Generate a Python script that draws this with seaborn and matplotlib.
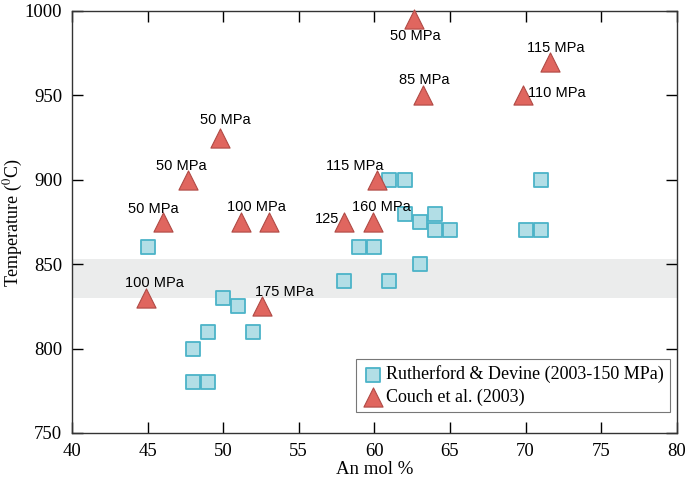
import matplotlib
matplotlib.use("Agg")
import matplotlib.pyplot as plt
import seaborn as sns
import pandas as pd

sns.set_style("ticks")
plt.rcParams["font.family"] = ["Liberation Serif", "DejaVu Serif"]
plt.rcParams["mathtext.fontset"] = "stix"
plt.rcParams["text.color"] = "black"
plt.rcParams["axes.labelcolor"] = "black"
plt.rcParams["xtick.color"] = "black"
plt.rcParams["ytick.color"] = "black"

# Rutherford & Devine (2003) - 150 MPa
rd_an = [45, 48, 48, 49, 49, 50, 51, 52, 58, 59, 60, 61, 61, 62, 62, 63, 63, 64, 64, 65, 70, 71, 71]
rd_temp = [860, 800, 780, 780, 810, 830, 825, 810, 840, 860, 860, 840, 900, 900, 880, 875, 850,
           880, 870, 870, 870, 870, 900]

# Couch et al. (2003)
couch_an = [49.8, 47.7, 46.0, 51.2, 53.0, 58.0, 59.9, 60.2, 62.6, 63.2, 69.8, 71.6, 44.9, 52.6]
couch_temp = [925, 900, 875, 875, 875, 875, 875, 900, 995, 950, 950, 970, 830, 825]
couch_labels = ["50 MPa", "50 MPa", "50 MPa", "100 MPa", "", "125", "160 MPa", "115 MPa",
                "50 MPa", "85 MPa", "110 MPa", "115 MPa", "100 MPa", "175 MPa"]
# label offsets (points) from each triangle
label_dx = [4, -5, -7, 11, 0, -12, 6, -16, 1, 1, 25, 4, 6, 16]
label_dy = [13, 10, 9, 11, 0, 2, 11, 10, -12, 11, 2, 10, 11, 10]

band_low, band_high = 830, 853

rd = pd.DataFrame({"an": rd_an, "temp": rd_temp})
couch = pd.DataFrame({"an": couch_an, "temp": couch_temp})

fig = plt.figure(figsize=(6.85, 4.82), dpi=100)
ax = fig.add_axes([0.105, 0.1017, 0.883, 0.8755])

ax.axhspan(band_low, band_high, color="#EBECEC", zorder=0, lw=0)

sns.scatterplot(data=rd, x="an", y="temp", marker="s", s=110, color="#B2DEE6",
                edgecolor="#4BB3C8", linewidth=1.3, label="Rutherford & Devine (2003-150 MPa)",
                ax=ax, zorder=3)
sns.scatterplot(data=couch, x="an", y="temp", marker="^", s=190, color="#E0665F",
                edgecolor="#B04A45", linewidth=0.8, label="Couch et al. (2003)",
                ax=ax, zorder=4, clip_on=False)

for x, y, t, dx, dy in zip(couch_an, couch_temp, couch_labels, label_dx, label_dy):
    if t:
        ax.annotate(t, (x, y), xytext=(dx, dy), textcoords="offset points",
                    ha="center", va="center", fontsize=10.5, family="Liberation Sans",
                    zorder=5)

ax.set_xlim(40, 80)
ax.set_ylim(750, 1000)
ax.set_xticks(range(40, 81, 5))
ax.set_yticks(range(750, 1001, 50))
ax.tick_params(direction="in", length=8, width=1, top=True, right=True, labelsize=13.5, pad=7)
for sp in ax.spines.values():
    sp.set_linewidth(1)
    sp.set_color("#333333")
ax.set_xlabel("An mol %", fontsize=13.5, labelpad=1)
ax.set_ylabel("Temperature ($^{0}$C)", fontsize=13)
ax.yaxis.set_label_coords(-0.078, 0.5)

leg = ax.legend(loc="lower right", bbox_to_anchor=(0.995, 0.04), fontsize=13, frameon=True,
                fancybox=False, edgecolor="#555555", handletextpad=0.1, borderpad=0.35,
                labelspacing=0.3, handlelength=1.2, borderaxespad=0.2)
leg.get_frame().set_linewidth(0.8)

fig.savefig("out.png", dpi=100)
